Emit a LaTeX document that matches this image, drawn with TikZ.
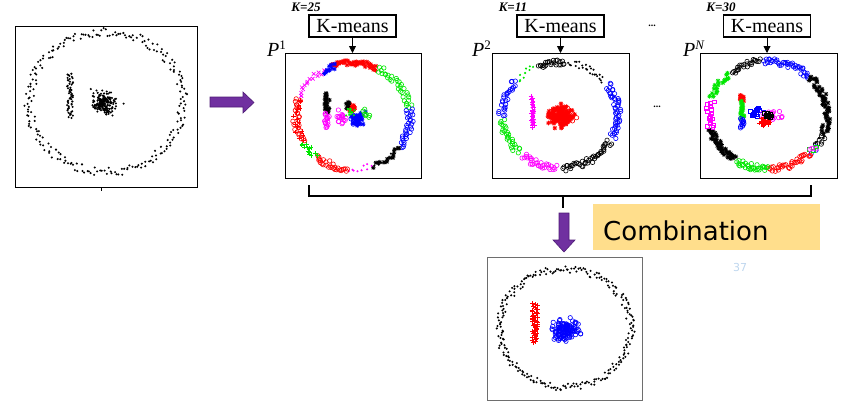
\documentclass[tikz,border=0pt]{standalone}
\usepackage{fontspec}
\setmainfont{Liberation Serif}
\newfontfamily\serifont{Liberation Serif}
\newfontfamily\combfont{DejaVu Sans}
\usetikzlibrary{arrows.meta,calc}
\definecolor{pur}{RGB}{112,48,160}
\definecolor{purd}{RGB}{78,28,118}
\definecolor{combfill}{RGB}{255,222,140}
\definecolor{pagenum}{RGB}{190,214,238}
\definecolor{mmag}{RGB}{255,0,255}
\definecolor{mgrn}{RGB}{0,230,0}
\definecolor{mred}{RGB}{255,0,0}
\definecolor{mblue}{RGB}{0,0,255}
\definecolor{boxgray}{RGB}{110,110,110}
\tikzset{
  mdot/.pic={\fill (0,0) circle (1.15pt);},
  mcirc/.pic={\draw[line width=0.6pt] (0,0) circle (2.2pt);},
  mplus/.pic={\draw[line width=0.7pt] (-2.3pt,0)--(2.3pt,0) (0,-2.3pt)--(0,2.3pt);},
  mcross/.pic={\draw[line width=0.7pt] (-1.8pt,-1.8pt)--(1.8pt,1.8pt) (-1.8pt,1.8pt)--(1.8pt,-1.8pt);},
  mstar/.pic={\draw[line width=0.7pt] (-2.3pt,0)--(2.3pt,0) (0,-2.3pt)--(0,2.3pt) (-1.7pt,-1.7pt)--(1.7pt,1.7pt) (-1.7pt,1.7pt)--(1.7pt,-1.7pt);},
  msq/.pic={\draw[line width=0.6pt] (-1.9pt,-1.9pt) rectangle (1.9pt,1.9pt);},
  plotbox/.style={draw, line width=1.3pt, inner sep=0pt, anchor=north west},
  kmbox/.style={draw, line width=1.1pt, inner sep=0pt, minimum width=87pt, minimum height=22pt, font=\serifont\fontsize{20}{20}\selectfont},
  klabel/.style={font=\serifont\fontsize{13}{13}\selectfont\bfseries\itshape, inner sep=0pt},
  plabel/.style={font=\serifont\fontsize{20}{20}\selectfont, inner sep=0pt, anchor=base west},
  kmarrow/.style={-{Triangle[length=7pt,width=7pt]}, line width=0.9pt},
  bigarrow/.style={fill=pur, draw=purd, line width=0.6pt},
  bracket/.style={line width=2pt},
  dotsl/.style={font=\serifont\fontsize{10}{10}\selectfont\bfseries, inner sep=0pt},
}
% ring segment: cx cy rx ry a1 a2 n marker color  (stratified angles)
\newcommand\ringseg[9]{%
  \pgfmathsetmacro\stp{(#6-#5)/#7}%
  \foreach \ii in {1,...,#7}{%
    \pgfmathsetmacro\aa{#5+\stp*(\ii-0.5+0.5*rand)}%
    \pgfmathsetmacro\rr{1+0.06*rand}%
    \pgfmathsetmacro\px{#1+#3*\rr*cos(\aa)}%
    \pgfmathsetmacro\py{#2-#4*\rr*sin(\aa)}%
    \pic[#9] at (\px,\py) {#8};
  }}
% blob: cx cy sx sy n marker color
\newcommand\blobpts[7]{%
  \foreach \ii in {1,...,#5}{%
    \pgfmathsetmacro\px{#1+#3*(rand+rand+rand)/1.5}%
    \pgfmathsetmacro\py{#2+#4*(rand+rand+rand)/1.5}%
    \pic[#7] at (\px,\py) {#6};
  }}
% bar: x y1 y2 halfwidth n marker color
\newcommand\barpts[7]{%
  \pgfmathsetmacro\bstp{(#3-#2)/#5}%
  \foreach \ii in {1,...,#5}{%
    \pgfmathsetmacro\px{#1+#4*rand}%
    \pgfmathsetmacro\py{#2+\bstp*(\ii-0.5+0.5*rand)}%
    \pic[#7] at (\px,\py) {#6};
  }}
\begin{document}
\begin{tikzpicture}[x=1pt,y=-1pt]
\useasboundingbox (0,0) rectangle (853,415);
\pgfmathsetseed{7}

% ---------- input data (left) ----------
\ringseg{106}{102}{77}{70}{0}{360}{230}{mdot}{black}
\barpts{70}{73}{118}{3}{55}{mdot}{black}
\blobpts{104}{103}{8}{8}{170}{mdot}{black}
\blobpts{106}{103}{14}{10}{18}{mdot}{black}
\node[plotbox, minimum width=182pt, minimum height=161pt] (p0) at (15,26) {};
\draw[line width=1pt] ($(p0.south)+(-5,0)$) -- ++(0,3);

% ---------- P1, K=25 ----------
\ringseg{353}{116}{57}{53}{65}{112}{40}{mstar}{mred}
\ringseg{353}{116}{57}{53}{8}{65}{32}{mcirc}{mgrn}
\ringseg{353}{116}{57}{53}{-35}{8}{32}{mcirc}{mblue}
\ringseg{353}{116}{57}{53}{-70}{-35}{14}{mstar}{black}
\ringseg{353}{116}{57}{53}{-70}{-40}{8}{mdot}{black}
\ringseg{353}{116}{57}{53}{-95}{-70}{9}{mdot}{mmag}
\ringseg{353}{116}{57}{53}{-130}{-95}{28}{mcirc}{mred}
\ringseg{353}{116}{57}{53}{-150}{-130}{14}{mplus}{mgrn}
\ringseg{353}{116}{57}{53}{160}{210}{24}{mcirc}{mred}
\ringseg{353}{116}{57}{53}{160}{210}{16}{mplus}{mred}
\ringseg{353}{116}{57}{53}{120}{160}{15}{mcross}{mmag}
\ringseg{353}{116}{57}{53}{108}{122}{10}{mstar}{mblue}
\barpts{327}{93}{113}{2.5}{24}{mstar}{black}
\barpts{327}{113}{128}{2.5}{16}{mcirc}{mmag}
\blobpts{342}{117}{4}{4}{16}{mcirc}{mmag}
\blobpts{358}{118}{5}{5}{32}{mstar}{mblue}
\blobpts{356}{120}{4}{4}{12}{mcirc}{mblue}
\blobpts{352}{109}{3}{3}{12}{mstar}{mred}
\blobpts{348}{105}{2}{3}{6}{mstar}{black}
\blobpts{350}{113}{3}{3}{18}{mdot}{mgrn}
\blobpts{367}{113}{4}{5}{7}{mcirc}{mgrn}
\node[plotbox, minimum width=136pt, minimum height=125pt] (p1) at (285,53) {};

% ---------- P2, K=11 ----------
\ringseg{560}{115}{58}{53}{85}{112}{24}{mcirc}{black}
\ringseg{560}{115}{58}{53}{40}{82}{26}{mdot}{black}
\ringseg{560}{115}{58}{53}{-25}{35}{50}{mcirc}{mblue}
\ringseg{560}{115}{58}{53}{-88}{-30}{44}{mcirc}{black}
\ringseg{560}{115}{58}{53}{-130}{-93}{32}{mcirc}{mmag}
\ringseg{560}{115}{58}{53}{185}{225}{28}{mcirc}{mgrn}
\ringseg{560}{115}{58}{53}{140}{182}{28}{mcirc}{mblue}
\ringseg{560}{115}{58}{53}{115}{140}{9}{mdot}{mgrn}
\barpts{533}{95}{128}{2}{24}{mplus}{mmag}
\barpts{533}{95}{128}{2}{12}{mdot}{mmag}
\blobpts{560}{116}{8}{7}{150}{mstar}{mred}
\blobpts{572}{114}{5}{6}{7}{mcirc}{mred}
\node[plotbox, minimum width=137pt, minimum height=125pt] (p2) at (492,53) {};

% ---------- PN, K=30 ----------
\ringseg{768}{115}{59}{54}{45}{95}{42}{mcirc}{mblue}
\ringseg{768}{115}{59}{54}{-20}{45}{55}{mstar}{black}
\ringseg{768}{115}{59}{54}{-35}{-20}{7}{mcirc}{black}
\ringseg{768}{115}{59}{54}{-35}{-20}{7}{mdot}{black}
\ringseg{768}{115}{59}{54}{-45}{-35}{3}{mcirc}{mblue}
\ringseg{768}{115}{59}{54}{-45}{-35}{3}{msq}{mgrn}
\ringseg{768}{115}{59}{54}{-45}{-35}{3}{mcirc}{mmag}
\ringseg{768}{115}{59}{54}{-90}{-45}{36}{mcirc}{mred}
\ringseg{768}{115}{59}{54}{-122}{-90}{30}{mcirc}{mgrn}
\ringseg{768}{115}{59}{54}{195}{235}{42}{mstar}{black}
\ringseg{768}{115}{59}{54}{165}{195}{18}{msq}{mmag}
\ringseg{768}{115}{59}{54}{130}{162}{18}{mstar}{mgrn}
\ringseg{768}{115}{59}{54}{97}{128}{24}{mcirc}{black}
\barpts{742}{95}{101}{2}{14}{mstar}{mred}
\barpts{742}{101}{118}{2}{20}{mstar}{mgrn}
\barpts{742}{118}{128}{2}{12}{mcirc}{mblue}
\blobpts{757}{112}{4}{4}{14}{msq}{mblue}
\blobpts{774}{115}{7}{5}{20}{mcirc}{mmag}
\blobpts{766}{121}{5}{4}{34}{mplus}{mred}
\blobpts{768}{115}{3}{3}{12}{msq}{black}
\node[plotbox, minimum width=137pt, minimum height=125pt] (pn) at (700,53) {};

% ---------- K-means boxes ----------
\node[kmbox] (km1) at (352.5,26) {K-means};
\node[kmbox] (km2) at (560.5,26) {K-means};
\node[kmbox] (km3) at (767,26) {K-means};
\draw[kmarrow] (km1.south) -- (km1.south |- p1.north);
\draw[kmarrow] (km2.south) -- (km2.south |- p2.north);
\draw[kmarrow] (km3.south) -- (km3.south |- pn.north);
\node[klabel] (k1) at (306,7) {K=25};
\node[klabel] (k2) at (513,7) {K=11};
\node[klabel] (k3) at (721,7) {K=30};
\node[plabel] (l1) at (267,56) {\textit{P}\raisebox{7pt}{\fontsize{13}{13}\selectfont 1}};
\node[plabel] (l2) at (472,56) {\textit{P}\raisebox{7pt}{\fontsize{13}{13}\selectfont 2}};
\node[plabel] (l3) at (683,56) {\textit{P}\raisebox{7pt}{\fontsize{13}{13}\selectfont\itshape N}};
\node[dotsl] (d1) at (652,26) {...};
\node[dotsl] (d2) at (657,107) {...};

% ---------- purple arrow right ----------
\draw[bigarrow] (210,97) -- (243,97) -- (243,92) -- (254,102.5) -- (243,113) -- (243,107) -- (210,107) -- cycle;

% ---------- bracket ----------
\coordinate (bl) at (309,185);
\coordinate (br) at (811,185);
\coordinate (bm) at (563,196);
\coordinate (bt) at (563,208);
\draw[bracket] (bl) -- (bl |- bm) -- (br |- bm) -- (br);
\draw[bracket] (bm) -- (bt);

% ---------- purple arrow down ----------
\draw[bigarrow] (559,213) -- (569,213) -- (569,240) -- (575,240) -- (564,252) -- (553,240) -- (559,240) -- cycle;

% ---------- Combination ----------
\node[fill=combfill, minimum width=227pt, minimum height=46pt, inner sep=0pt, anchor=north west] (comb) at (593,204) {};
\node[font=\combfont\fontsize{26}{26}\selectfont, inner sep=0pt, anchor=base west] (combt) at (603,240) {Combination};
\node[font=\combfont\fontsize{11}{11}\selectfont, text=pagenum, inner sep=0pt] (pg) at (740,267) {37};

% ---------- result (bottom) ----------
\ringseg{565}{328}{66}{59}{0}{360}{250}{mdot}{black}
\barpts{535}{303}{343}{3}{45}{mplus}{mred}
\blobpts{566}{330}{10}{8}{130}{mcirc}{mblue}
\node[plotbox, draw=boxgray, line width=1.4pt, minimum width=155pt, minimum height=143pt] (pb) at (487,257) {};
\end{tikzpicture}
\end{document}
